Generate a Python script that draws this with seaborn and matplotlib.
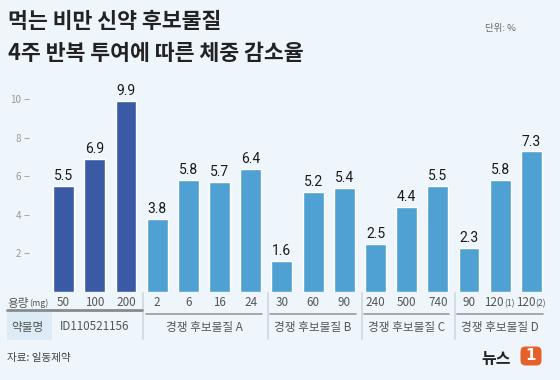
import matplotlib
matplotlib.use('Agg')
import matplotlib.pyplot as plt
from matplotlib.transforms import blended_transform_factory, IdentityTransform
from matplotlib.patches import Rectangle, FancyBboxPatch
from matplotlib.lines import Line2D
import pandas as pd
import seaborn as sns

# =============================================
# Data (weight loss after 4 weeks, %)
doses = ['50', '100', '200', '2', '6', '16', '24', '30', '60', '90',
         '240', '500', '740', '90', '120(1)', '120(2)']
values = [5.5, 6.9, 9.9, 3.8, 5.8, 5.7, 6.4, 1.6, 5.2, 5.4,
          2.5, 4.4, 5.5, 2.3, 5.8, 7.3]
group_names = ['ID110521156', '경쟁 후보물질 A', '경쟁 후보물질 B',
               '경쟁 후보물질 C', '경쟁 후보물질 D']
group_sizes = [3, 4, 3, 3, 3]
yticks = [2, 4, 6, 8, 10]

title_lines = ['먹는 비만 신약 후보물질', '4주 반복 투여에 따른 체중 감소율']
unit_text = '단위: %'
source_text = '자료: 일동제약'

# =============================================
# Style
W, H = 560, 380
bg = '#EEF6FC'
dark = '#3A5AA6'
light = '#4FA1D3'
table_txt = '#555555'
table_size = 8.4

sns.set_theme(style='white')
plt.rcParams['font.family'] = ['Noto Sans CJK KR', 'DejaVu Sans']


def fx(px):
    return px / W


def fy(px):
    return 1 - px / H


groups = []
for name, n in zip(group_names, group_sizes):
    groups += [name] * n

df = pd.DataFrame({
    'pos': [str(i) for i in range(len(values))],
    'value': values,
    'kind': ['main' if g == group_names[0] else 'rival' for g in groups],
})

fig = plt.figure(figsize=(W / 100, H / 100), dpi=100, facecolor=bg)
ax = fig.add_axes([fx(48), fy(292), fx(547) - fx(48), (292 - 89.7) / H])
ax.set_facecolor(bg)

sns.barplot(data=df, x='pos', y='value', hue='kind',
            palette={'main': dark, 'rival': light}, width=0.67,
            dodge=False, legend=False, saturation=1, ax=ax)

for c in ax.containers:
    ax.bar_label(c, fmt='%.1f', padding=2, fontsize=10, family='Roboto',
                 color='#1a1a1a')

ax.set_xlim(-0.5, len(values) - 0.5)
ax.set_ylim(0, 10.5)
ax.set_xticks([])
ax.set_yticks(yticks)
ax.set_xlabel('')
ax.set_ylabel('')
for s in ax.spines.values():
    s.set_visible(False)
ax.spines['left'].set_position(('outward', 14))
ax.tick_params(axis='y', left=True, length=3.6, width=0.8, color='#aaaaaa',
               direction='out', pad=1.5, labelsize=7, labelcolor='#999999')

# =============================================
# Table under the bars
tr = blended_transform_factory(ax.transData, fig.transFigure)

# dose row
for i, d in enumerate(doses):
    if '(' in d:
        main, suf = d.split('(')
        ax.text(i + 0.12, fy(303), main, transform=tr, ha='right', va='center',
                fontsize=table_size, color=table_txt)
        ax.text(i + 0.12, fy(303.5), '(' + suf, transform=tr, ha='left', va='center',
                fontsize=6.2, color=table_txt)
    else:
        ax.text(i, fy(303), d, transform=tr, ha='center', va='center',
                fontsize=table_size, color=table_txt)

fig.text(fx(7), fy(303), '용량', ha='left', va='center', fontsize=table_size,
         color=table_txt)
fig.text(fx(29), fy(303.5), '(mg)', ha='left', va='center', fontsize=6.4,
         color=table_txt)

# name row
fig.patches.append(Rectangle((fx(7), fy(340)), fx(52) - fx(7), (340 - 312) / H,
                             transform=fig.transFigure, facecolor='#DCEBF6',
                             edgecolor='none', zorder=0))
fig.text(fx(11), fy(327), '약물명', ha='left', va='center', fontsize=table_size,
         color=table_txt)

start = 0
bounds = []
for name, n in zip(group_names, group_sizes):
    end = start + n
    centre = (start + end - 1) / 2
    ax.text(centre, fy(327), name, transform=tr, ha='center', va='center',
            fontsize=table_size, color=table_txt)
    bounds.append((start - 0.5, end - 0.5))
    start = end

px_unit = (547 - 48) / len(values)
for k, (a, b) in enumerate(bounds):
    if k == 0:
        fig.lines.append(Line2D([fx(7), fx(142)], [fy(309.5), fy(309.5)],
                                transform=fig.transFigure, color='#8a8a8a', lw=2))
    else:
        ax.add_line(Line2D([a + 4 / px_unit, b - 4 / px_unit], [fy(314), fy(314)],
                           transform=tr, color='#9a9a9a', lw=1.2, clip_on=False))
        ax.add_line(Line2D([a + 0.06, a + 0.06], [fy(293), fy(339)],
                           transform=tr, color='#cfd7de', lw=1.2, clip_on=False))

# =============================================
# Titles and footer
fig.text(fx(8), fy(21), title_lines[0], ha='left', va='center', fontsize=15.6,
         fontweight='bold', color='#222222')
fig.text(fx(8), fy(53), title_lines[1], ha='left', va='center', fontsize=15.6,
         fontweight='bold', color='#222222')
fig.text(fx(516), fy(28), unit_text, ha='right', va='center', fontsize=6.8,
         color='#666666')
fig.text(fx(7), fy(358), source_text, ha='left', va='center', fontsize=7.6,
         color='#444444')

# logo
fig.text(fx(481), fy(359), '뉴스', ha='left', va='center', fontsize=11.5,
         fontweight='bold', color='#222222')
fig.patches.append(FancyBboxPatch((522, H - 364), 18, 16,
                                  boxstyle='round,pad=1.5,rounding_size=5',
                                  transform=IdentityTransform(),
                                  facecolor='#E5602A', edgecolor='none'))
fig.text(fx(531), fy(356), '1', ha='center', va='center', fontsize=11,
         fontweight='bold', color='white', family='DejaVu Sans')

fig.savefig('out.png', dpi=100, facecolor=bg)
